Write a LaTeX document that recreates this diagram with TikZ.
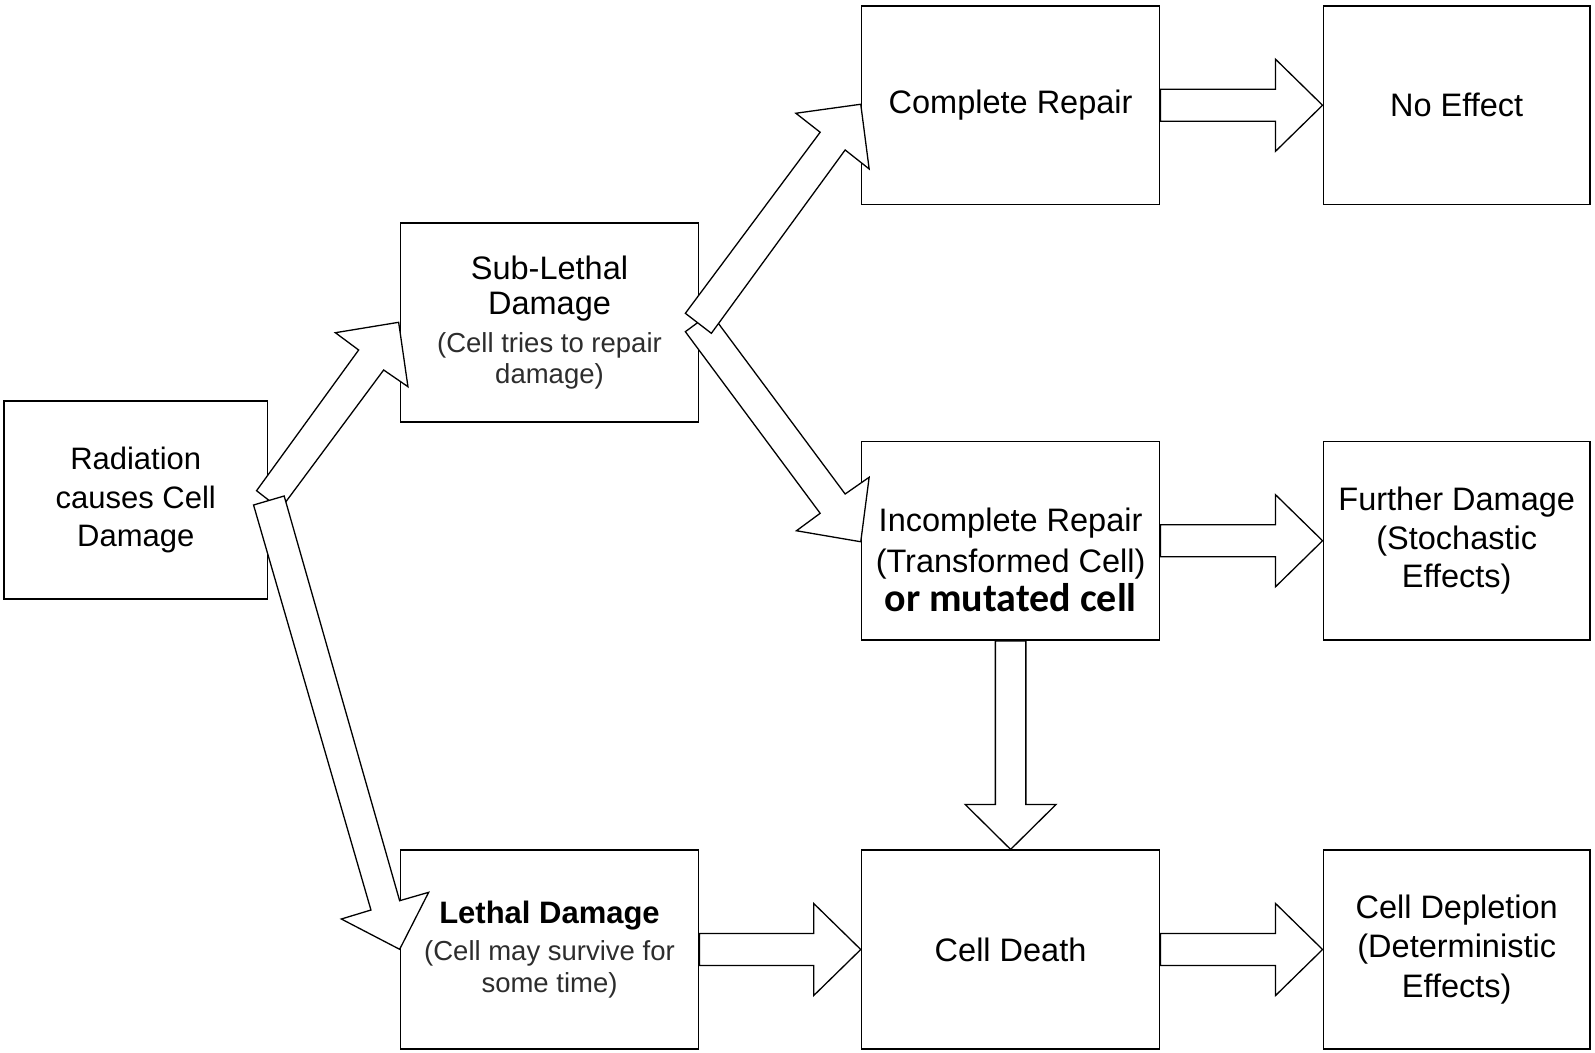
\documentclass[tikz,border=0pt]{standalone}
\usepackage{fontspec}
\setmainfont{Liberation Sans}
\newfontfamily\calibri{Carlito}
\definecolor{subgray}{RGB}{45,45,45}
\newcommand\mainsz{\fontsize{32.5}{38.5}\selectfont}
\newcommand\radsz{\fontsize{31}{38.5}\selectfont}
\newcommand\subsz{\fontsize{27.5}{30.5}\selectfont\color{subgray}}
\begin{document}
\begin{tikzpicture}[x=1pt,y=-1pt,
  box/.style={draw=black, line width=1.7pt, fill=white, inner sep=0pt, align=center,
              minimum width=298pt, minimum height=198.5pt, font=\mainsz},
  narrowbox/.style={box, minimum width=266.6pt},
  lbl/.style={inner sep=0pt, align=center, font=\mainsz},
  blockarrow/.style={draw=black, line width=1.3pt, fill=white, line join=miter}]
\fill[white] (0,0) rectangle (1595,1052);
\useasboundingbox (0,0) rectangle (1595,1052);

% boxes
\node[box, minimum width=263.5pt, font=\radsz] (rad) at (135.75,500) {Radiation\\causes Cell\\Damage};
\node[box] (sub) at (549.5,322.5) {Sub-Lethal\\[-3pt]Damage\\[-0.5pt]\subsz (Cell tries to repair\\[-8pt]\subsz damage)};
\node[box] (comp) at (1010.6,105.25) {Complete Repair};
\node[narrowbox] (noeff) at (1456.7,105.25) {No Effect};
\node[box] (inc) at (1010.6,540.75) {};
\node[lbl] (incT) at (1010.6,560) {Incomplete Repair\\[2pt](Transformed Cell)\\[1pt]{\calibri\bfseries\fontsize{40}{40}\selectfont or mutated cell}};
\node[narrowbox] (fur) at (1456.7,540.75) {Further Damage\\(Stochastic\\Effects)};
\node[box] (leth) at (549.5,949.5) {{\bfseries\fontsize{31}{36}\selectfont Lethal Damage}\\[-1pt]\subsz (Cell may survive for\\[-6.5pt]\subsz some time)};
\node[box] (death) at (1010.6,949.5) {Cell Death};
\node[narrowbox] (depl) at (1456.7,949.5) {Cell Depletion\\[1pt](Deterministic\\[1pt]Effects)};

% diagonal arrows from Radiation
\draw[blockarrow] ([shift={(-11.8,-9.3)}]rad.east) -- ([shift={(-41,27.5)}]sub.west)
  -- ([shift={(-64.3,10.2)}]sub.west) -- ([shift={(-1,-0.2)}]sub.west)
  -- ([shift={(8.3,64.2)}]sub.west) -- ([shift={(-16,47.5)}]sub.west)
  -- ([shift={(12,9.2)}]rad.east) -- cycle;
\draw[blockarrow] ([shift={(-14.8,5)}]rad.east) -- ([shift={(-28.7,-39.5)}]leth.west)
  -- ([shift={(-58.3,-30.5)}]leth.west) -- ([shift={(0,-0.2)}]leth.west)
  -- ([shift={(29,-57.2)}]leth.west) -- ([shift={(0,-48.8)}]leth.west)
  -- ([shift={(15.8,-4)}]rad.east) -- cycle;

% diagonal arrows from Sub-Lethal
\draw[blockarrow] ([shift={(-14,9.2)}]sub.east) -- ([shift={(-40.6,-27.45)}]inc.west)
  -- ([shift={(-64.3,-10)}]inc.west) -- ([shift={(0,1)}]inc.west)
  -- ([shift={(8.4,-63.5)}]inc.west) -- ([shift={(-15.6,-46.75)}]inc.west)
  -- ([shift={(11.3,-9.5)}]sub.east) -- cycle;
\draw[blockarrow] ([shift={(-14,-9.2)}]sub.east) -- ([shift={(-40.6,27)}]comp.west)
  -- ([shift={(-64.9,8)}]comp.west) -- ([shift={(0,-1)}]comp.west)
  -- ([shift={(8.4,63.7)}]comp.west) -- ([shift={(-15.6,44.7)}]comp.west)
  -- ([shift={(12,10.8)}]sub.east) -- cycle;

% horizontal block arrows
\newcommand\harrow[2]{%
  \draw[blockarrow] ([shift={(0,-16)}]#1.east) -- ([shift={(-47,-16)}]#2.west)
    -- ([shift={(-47,-46)}]#2.west) -- (#2.west) -- ([shift={(-47,46)}]#2.west)
    -- ([shift={(-47,16)}]#2.west) -- ([shift={(0,16)}]#1.east) -- cycle;}
\harrow{comp}{noeff}
\harrow{inc}{fur}
\harrow{leth}{death}
\harrow{death}{depl}

% vertical block arrow
\draw[blockarrow] ([shift={(-15.25,0)}]inc.south) -- ([shift={(-15.25,-45)}]death.north)
  -- ([shift={(-45.5,-45)}]death.north) -- (death.north) -- ([shift={(45.5,-45)}]death.north)
  -- ([shift={(15.25,-45)}]death.north) -- ([shift={(15.25,0)}]inc.south) -- cycle;
\end{tikzpicture}
\end{document}
